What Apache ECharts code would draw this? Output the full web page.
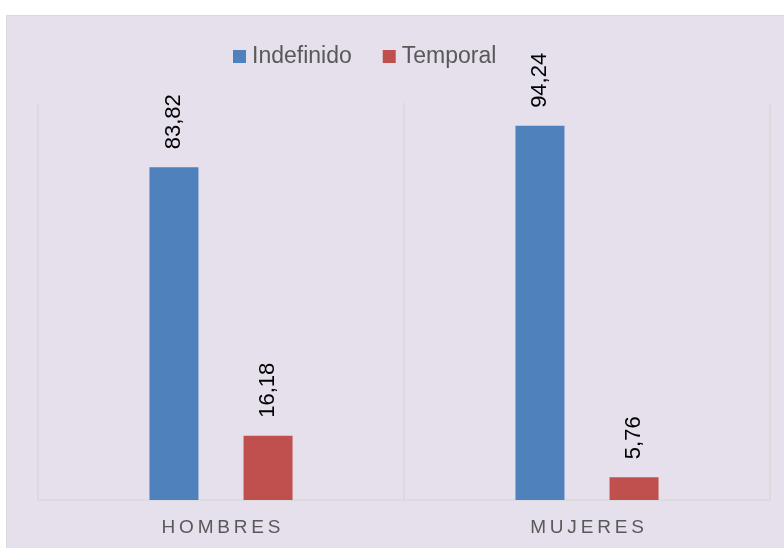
<!DOCTYPE html>
<html>
<head>
<meta charset="utf-8">
<script src="https://cdn.jsdelivr.net/npm/echarts@6/dist/echarts.min.js"></script>
<style>
  html, body { margin: 0; padding: 0; background: #fff; }
  #main { width: 784px; height: 548px; }
</style>
</head>
<body>
<div id="main"></div>
<script>
// datos
const categorias = ['HOMBRES', 'MUJERES']
const indefinido = [83.82, 94.24]
const temporal = [16.18, 5.76]

const chart = echarts.init(document.getElementById('main'))

// etiqueta con coma decimal
const etiqueta = {
  show: true,
  position: 'top',
  rotate: 90,
  align: 'left',
  verticalAlign: 'middle',
  distance: 18,
  fontFamily: 'Liberation Sans, Arial, sans-serif',
  fontSize: 22,
  color: '#000',
  formatter: p => String(p.value).replace('.', ',')
}

chart.setOption({
  backgroundColor: '#fff',
  animation: false,
  graphic: [{
    type: 'rect',
    z: -10,
    shape: { x: 6.5, y: 15.5, width: 800, height: 560 },
    style: { fill: '#E5E0EC', stroke: '#D9D9D9', lineWidth: 1 }
  }],
  legend: {
    left: 228,
    top: 40,
    icon: 'rect',
    itemWidth: 13,
    itemHeight: 13,
    itemGap: 31,
    textStyle: {
      fontFamily: 'Liberation Sans, Arial, sans-serif',
      fontSize: 23,
      color: '#595959',
      padding: [0, 0, 0, 1]
    },
    data: ['Indefinido', 'Temporal']
  },
  grid: { left: 38, right: 14, top: 103, bottom: 48 },
  xAxis: {
    type: 'category',
    data: categorias,
    axisLine: { lineStyle: { color: '#D9D9D9', width: 1.5 } },
    axisTick: { show: false },
    splitLine: { show: true, lineStyle: { color: '#D9D9D9', width: 1.5 } },
    axisLabel: {
      margin: 18,
      fontFamily: 'Liberation Sans, Arial, sans-serif',
      fontSize: 19,
      color: '#595959',
      // espaciado entre letras
      formatter: v => v.split('').join('\u2009')
    }
  },
  yAxis: {
    type: 'value',
    min: 0,
    max: 100,
    show: false
  },
  series: [
    {
      name: 'Indefinido',
      type: 'bar',
      data: indefinido,
      barWidth: 49,
      barGap: '92%',
      itemStyle: { color: '#4F81BD' },
      label: etiqueta
    },
    {
      name: 'Temporal',
      type: 'bar',
      data: temporal,
      barWidth: 49,
      itemStyle: { color: '#C0504D' },
      label: etiqueta
    }
  ]
})
</script>
</body>
</html>
